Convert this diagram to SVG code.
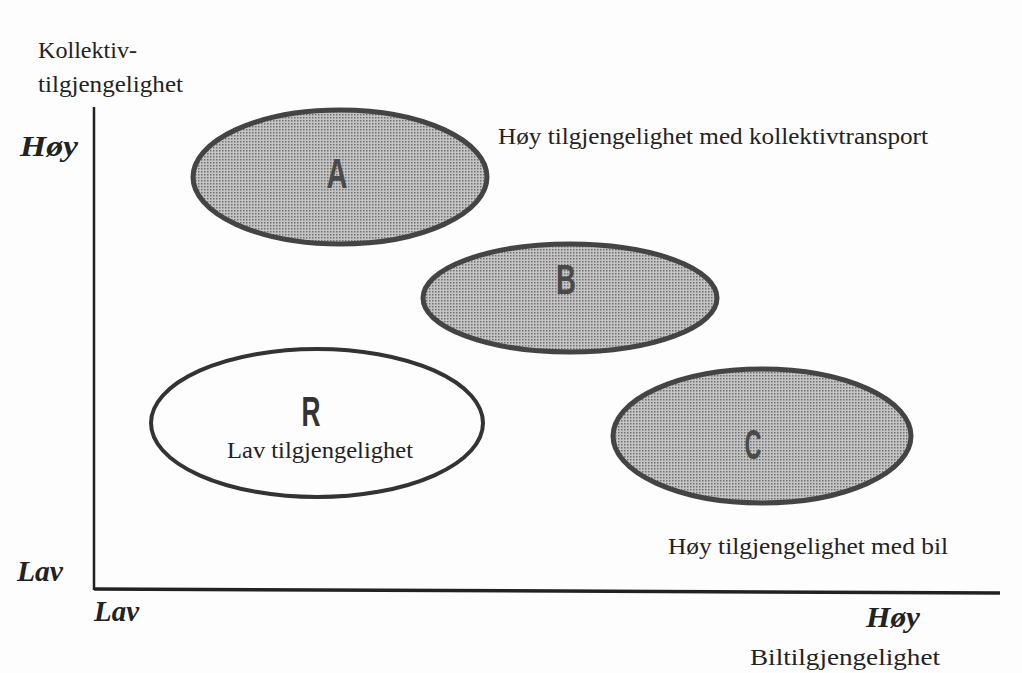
<svg xmlns="http://www.w3.org/2000/svg" width="1022" height="673" viewBox="0 0 1022 673">
<style>
.t{font-family:"Liberation Serif","Times New Roman",serif;font-size:24px;fill:#222}
.ax{font-family:"Liberation Serif","Times New Roman",serif;font-size:30px;font-weight:bold;font-style:italic;fill:#222}
.lt{font-family:"Liberation Sans",Arial,sans-serif;font-size:43px;font-weight:bold;fill:#4a4a4a;text-anchor:middle}
.el{stroke:#444;stroke-width:5}
</style>
<defs>
<pattern id="dots" width="3" height="3" patternUnits="userSpaceOnUse">
<rect width="3" height="3" fill="#c4c4c4"/>
<rect width="1.5" height="1.5" fill="#707070"/>
</pattern>
</defs>
<rect width="1022" height="673" fill="#fdfdfd"/>
<g id="axes" stroke="#222" fill="none">
<line x1="94" y1="107" x2="94" y2="590" stroke-width="2.5"/>
<line x1="94" y1="589" x2="1000" y2="593" stroke-width="3.5"/>
</g>
<g id="axis-labels">
<text class="t" x="38" y="58" textLength="99" lengthAdjust="spacingAndGlyphs">Kollektiv-</text>
<text class="t" x="38" y="92" textLength="145" lengthAdjust="spacingAndGlyphs">tilgjengelighet</text>
<text class="ax" x="20" y="156" textLength="58" lengthAdjust="spacingAndGlyphs">Høy</text>
<text class="ax" x="17" y="581" textLength="46" lengthAdjust="spacingAndGlyphs">Lav</text>
<text class="ax" x="94" y="621" textLength="45" lengthAdjust="spacingAndGlyphs">Lav</text>
<text class="ax" x="866" y="627" textLength="54" lengthAdjust="spacingAndGlyphs">Høy</text>
<text class="t" x="750" y="665" textLength="190" lengthAdjust="spacingAndGlyphs">Biltilgjengelighet</text>
</g>
<g id="nodeA">
<ellipse class="el" cx="340" cy="177" rx="147" ry="67" fill="url(#dots)"/>
<text class="lt" x="337" y="188" textLength="21" lengthAdjust="spacingAndGlyphs">A</text>
</g>
<g id="nodeB">
<ellipse class="el" cx="570" cy="298" rx="147" ry="54" fill="url(#dots)"/>
<text class="lt" x="566" y="294" textLength="20" lengthAdjust="spacingAndGlyphs">B</text>
</g>
<g id="nodeR">
<ellipse cx="317" cy="423" rx="166" ry="74" fill="none" stroke="#333" stroke-width="4"/>
<text class="lt" x="311" y="426" textLength="19" lengthAdjust="spacingAndGlyphs" style="fill:#333">R</text>
<text class="t" x="227" y="458" textLength="186" lengthAdjust="spacingAndGlyphs">Lav tilgjengelighet</text>
</g>
<g id="nodeC">
<ellipse class="el" cx="762" cy="436" rx="149" ry="67" fill="url(#dots)"/>
<text class="lt" x="753" y="459" textLength="17" lengthAdjust="spacingAndGlyphs">C</text>
</g>
<g id="annotations">
<text class="t" x="498" y="144" textLength="430" lengthAdjust="spacingAndGlyphs">Høy tilgjengelighet med kollektivtransport</text>
<text class="t" x="668" y="554" textLength="280" lengthAdjust="spacingAndGlyphs">Høy tilgjengelighet med bil</text>
</g>
</svg>
